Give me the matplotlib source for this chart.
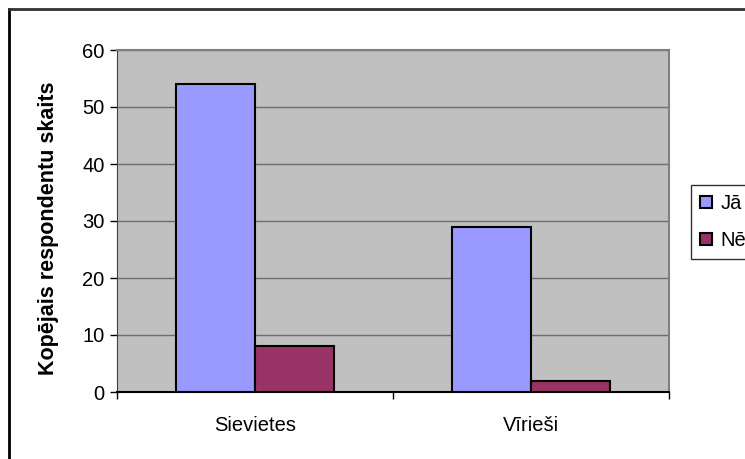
import numpy as np
import matplotlib.pyplot as plt

plt.rcParams['font.family'] = ['Liberation Sans', 'DejaVu Sans']

categories = ['Sievietes', 'Vīrieši']
series_names = ['Jā', 'Nē']
values_ja = [54, 29]
values_ne = [8, 2]
colors = ['#9999FF', '#993366']

fig = plt.figure(figsize=(7.45, 4.59), dpi=100)
ax = fig.add_axes([117 / 745, 1 - 392 / 459, 552 / 745, 342 / 459])
ax.set_facecolor('#C0C0C0')

x = np.arange(len(categories))
w = 0.286
ax.bar(x - w / 2, values_ja, w, color=colors[0], edgecolor='black', linewidth=1.5,
       label=series_names[0], zorder=3)
ax.bar(x + w / 2, values_ne, w, color=colors[1], edgecolor='black', linewidth=1.5,
       label=series_names[1], zorder=3)

ax.set_xlim(-0.5, len(categories) - 0.5)
ax.set_ylim(0, 60)
ax.set_yticks(range(0, 61, 10))
ax.yaxis.grid(True, color='#6e6e6e', linewidth=1, zorder=1)

# category labels in the middle, tick marks on the boundaries
ax.set_xticks(x)
ax.set_xticklabels(categories, fontsize=14.5)
ax.tick_params(axis='x', length=0, pad=17)
ax.set_xticks(np.arange(-0.5, len(categories)), minor=True)
ax.tick_params(axis='x', which='minor', length=5, width=1, color='black', direction='out')
ax.tick_params(axis='y', labelsize=14.5, length=5, width=1, direction='out', pad=4)

for side in ['top', 'right']:
    ax.spines[side].set_color('#808080')
    ax.spines[side].set_linewidth(1.5)
ax.spines['left'].set_color('#404040')
ax.spines['bottom'].set_color('black')
ax.spines['bottom'].set_linewidth(1.5)

ax.set_ylabel('Kopējais respondentu skaits', fontsize=15.5, fontweight='bold')
ax.yaxis.set_label_coords(-0.105, 0.48)

leg = fig.legend(loc='upper left', bbox_to_anchor=(691 / 745, 1 - 185 / 459),
                 fontsize=14.5, frameon=True, fancybox=False, edgecolor='black',
                 handlelength=0.6, handleheight=0.6, handletextpad=0.4,
                 labelspacing=0.9, borderpad=0.45, borderaxespad=0)
leg.get_frame().set_linewidth(1)

# chart border (left and top edges)
fig.add_artist(plt.Line2D([9 / 745, 9 / 745], [0, 1 - 9 / 459], color='black', linewidth=2,
                          transform=fig.transFigure))
fig.add_artist(plt.Line2D([9 / 745, 1], [1 - 9 / 459, 1 - 9 / 459], color='#333333',
                          linewidth=2, transform=fig.transFigure))

fig.savefig('out.png', dpi=100)
